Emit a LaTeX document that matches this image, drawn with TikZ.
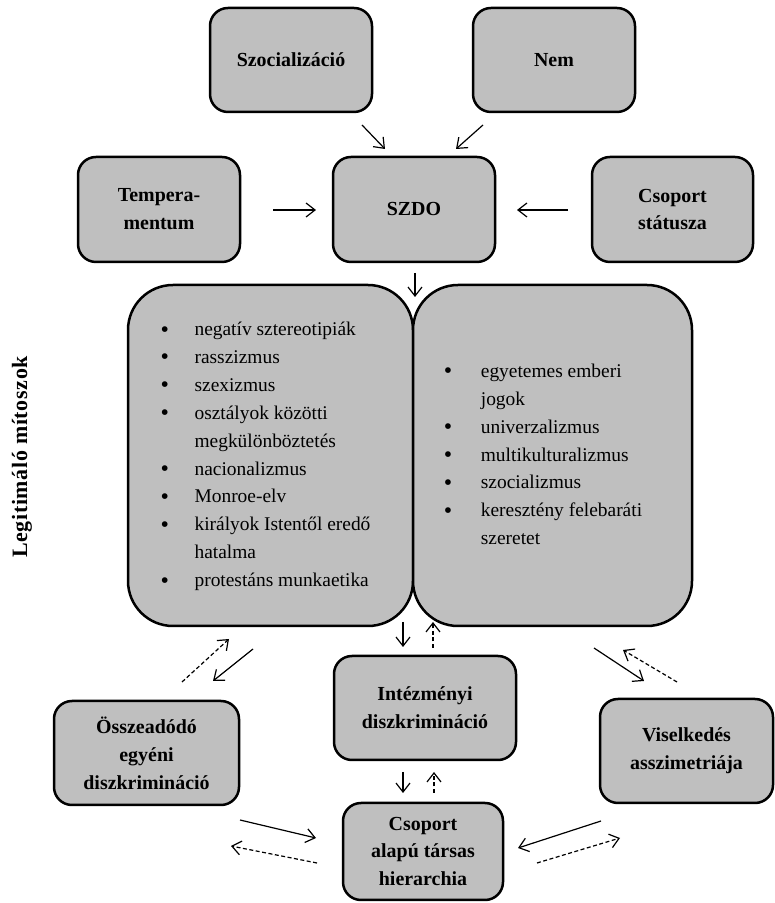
\documentclass[tikz,border=0pt]{standalone}
\usepackage{fontspec}
\setmainfont{Liberation Serif}
\usetikzlibrary{arrows,arrows.meta}

\definecolor{boxfill}{rgb}{0.75,0.75,0.75}
\newcommand{\mythbul}{\raisebox{-1.5bp}{\fontsize{24}{24}\selectfont\textbullet}}

\begin{document}
\begin{tikzpicture}[>={Straight Barb[length=9bp,width=14bp]},line join=bevel,
  box/.style={draw,line width=2.5bp,fill=boxfill,rounded corners=18bp,align=center,inner sep=0pt,
    font=\fontsize{20}{28}\selectfont\bfseries},
  mythbox/.style={draw,line width=2.5bp,fill=boxfill,rounded corners=45bp,inner sep=0pt,
    font=\fontsize{19.5}{28}\selectfont},
  edge/.style={->,line width=1.2bp},
  backedge/.style={->,line width=1.2bp,dash pattern=on 4bp off 2.5bp}]
\useasboundingbox (0bp,0bp) rectangle (775bp,903bp);

% Node: szoc
\node [box,minimum width=162bp,minimum height=104bp] (szoc) at (291bp,843bp) {Szocializáció};
% Node: nem
\node [box,minimum width=162bp,minimum height=104bp] (nem) at (554bp,843bp) {Nem};

% Node: temp
\node [box,minimum width=162bp,minimum height=105bp] (temp) at (159bp,693.5bp) {Tempera-\\mentum};
% Node: szdo
\node [box,minimum width=162bp,minimum height=105bp] (szdo) at (414bp,693.5bp) {SZDO};
% Node: csst
\node [box,minimum width=161bp,minimum height=105bp] (csst) at (672.5bp,693.5bp) {Csoport\\státusza};

% Node: legit
\node [rotate=90,font=\fontsize{22}{24}\selectfont\bfseries\addfontfeature{LetterSpace=3}] (legit) at (22bp,446bp) {Legitimáló mítoszok};

% Node: myth (left)
\node [mythbox,minimum width=285bp,minimum height=341bp] (mythl) at (270.5bp,447.5bp) {%
  \begin{tabular}{@{}p{34bp}@{}l@{\hspace{10bp}}}
  \mythbul & negatív sztereotipiák\\
  \mythbul & rasszizmus\\
  \mythbul & szexizmus\\
  \mythbul & osztályok közötti\\
           & megkülönböztetés\\
  \mythbul & nacionalizmus\\
  \mythbul & Monroe-elv\\
  \mythbul & királyok Istentől eredő\\
           & hatalma\\
  \mythbul & protestáns munkaetika
  \end{tabular}};
% Node: myth (right)
\node [mythbox,minimum width=279bp,minimum height=341bp] (mythr) at (552.5bp,447.5bp) {%
  \begin{tabular}{@{}p{37bp}@{}l@{\hspace{19bp}}}
  \mythbul & egyetemes emberi\\
           & jogok\\
  \mythbul & univerzalizmus\\
  \mythbul & multikulturalizmus\\
  \mythbul & szocializmus\\
  \mythbul & keresztény felebaráti\\
           & szeretet
  \end{tabular}};

% Node: inte
\node [box,minimum width=182bp,minimum height=104bp] (inte) at (425bp,195bp) {Intézményi\\diszkrimináció};
% Node: ossz
\node [box,minimum width=185bp,minimum height=104bp] (ossz) at (146.5bp,150bp) {Összeadódó\\egyéni\\diszkrimináció};
% Node: visel
\node [box,minimum width=173bp,minimum height=104bp] (visel) at (686.5bp,152bp) {Viselkedés\\asszimetriája};
% Node: csah
\node [box,minimum width=160bp,minimum height=97bp] (csah) at (423bp,51.5bp) {Csoport\\alapú társas\\hierarchia};

% Edge: szoc -> szdo
\coordinate (szoc-out) at (362bp,778bp);
\coordinate (szdo-in1) at (385bp,754bp);
\draw [edge] (szoc-out) -- (szdo-in1);

% Edge: nem -> szdo
\coordinate (nem-out) at (483bp,778bp);
\coordinate (szdo-in2) at (456bp,754bp);
\draw [edge] (nem-out) -- (szdo-in2);

% Edge: temp -> szdo
\coordinate (temp-out) at (273bp,693bp);
\coordinate (szdo-in3) at (316bp,693bp);
\draw [edge] (temp-out) -- (szdo-in3);

% Edge: csst -> szdo
\coordinate (csst-out) at (568bp,693bp);
\coordinate (szdo-in4) at (517bp,693bp);
\draw [edge] (csst-out) -- (szdo-in4);

% Edge: szdo -> myth
\coordinate (szdo-out) at (415bp,630bp);
\coordinate (myth-in) at (415bp,606bp);
\draw [edge] (szdo-out) -- (myth-in);

% Edge: mythl -> ossz, ossz -> mythl
\coordinate (mythl-a) at (253bp,254bp);
\coordinate (ossz-a) at (213bp,222bp);
\draw [edge] (mythl-a) -- (ossz-a);
\coordinate (ossz-b) at (182bp,221bp);
\coordinate (mythl-b) at (229bp,264bp);
\draw [backedge] (ossz-b) -- (mythl-b);

% Edge: myth -> inte, inte -> myth
\coordinate (myth-a) at (403bp,281bp);
\coordinate (inte-a) at (403bp,256bp);
\draw [edge] (myth-a) -- (inte-a);
\coordinate (inte-b) at (433bp,255bp);
\coordinate (myth-b) at (433bp,281bp);
\draw [backedge] (inte-b) -- (myth-b);

% Edge: mythr -> visel, visel -> mythr
\coordinate (mythr-a) at (594bp,255bp);
\coordinate (visel-a) at (644bp,222bp);
\draw [edge] (mythr-a) -- (visel-a);
\coordinate (visel-b) at (677bp,221bp);
\coordinate (mythr-b) at (623bp,253bp);
\draw [backedge] (visel-b) -- (mythr-b);

% Edge: inte -> csah, csah -> inte
\coordinate (inte-c) at (403bp,131bp);
\coordinate (csah-a) at (403bp,110bp);
\draw [edge] (inte-c) -- (csah-a);
\coordinate (csah-b) at (434bp,110bp);
\coordinate (inte-d) at (434bp,131bp);
\draw [backedge] (csah-b) -- (inte-d);

% Edge: ossz -> csah, csah -> ossz
\coordinate (ossz-c) at (240bp,83bp);
\coordinate (csah-c) at (316bp,65bp);
\draw [edge] (ossz-c) -- (csah-c);
\coordinate (csah-d) at (317bp,40bp);
\coordinate (ossz-d) at (231bp,57bp);
\draw [backedge] (csah-d) -- (ossz-d);

% Edge: visel -> csah, csah -> visel
\coordinate (visel-c) at (601bp,82bp);
\coordinate (csah-e) at (518bp,55bp);
\draw [edge] (visel-c) -- (csah-e);
\coordinate (csah-f) at (537bp,40bp);
\coordinate (visel-d) at (620bp,65bp);
\draw [backedge] (csah-f) -- (visel-d);
%
\end{tikzpicture}
\end{document}
